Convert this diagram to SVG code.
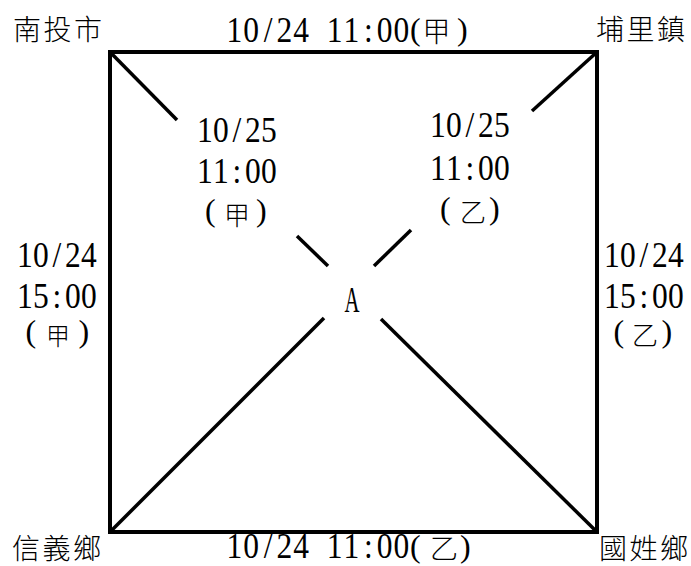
<svg xmlns="http://www.w3.org/2000/svg" width="691" height="566" viewBox="0 0 691 566">
<style>
.ln{stroke:#000;stroke-width:3.5;fill:none;stroke-linecap:butt}
.box{stroke:#000;stroke-width:4;fill:none}
.d{font-family:"Liberation Serif","Times New Roman",serif;font-size:35px;fill:#000}
.p{font-family:"Liberation Serif","Times New Roman",serif;font-size:32px;fill:#000}
.c{font-family:"Noto Sans CJK TC","Noto Sans CJK SC",sans-serif;fill:#000;font-weight:300}
.city{font-size:28px;letter-spacing:2.5px}
</style>
<rect width="691" height="566" fill="#fff"/>
<g id="connectors">
<rect class="box" x="110" y="52" width="487" height="480"/>
<line class="ln" x1="110" y1="52" x2="177" y2="120"/>
<line class="ln" x1="297" y1="236" x2="328" y2="266"/>
<line class="ln" x1="381" y1="319" x2="597" y2="532"/>
<line class="ln" x1="597" y1="52" x2="532" y2="111"/>
<line class="ln" x1="411" y1="230" x2="374" y2="266"/>
<line class="ln" x1="324" y1="318" x2="110" y2="532"/>
</g>
<g id="node-nantou"><text class="c city" x="13" y="40">南投市</text></g>
<g id="node-puli"><text class="c city" x="596" y="40">埔里鎮</text></g>
<g id="node-xinyi"><text class="c city" x="12" y="559">信義鄉</text></g>
<g id="node-guoxing"><text class="c city" x="599" y="559">國姓鄉</text></g>
<g id="node-A"><text class="d" x="344.5" y="312" font-size="30" textLength="15" lengthAdjust="spacingAndGlyphs">A</text></g>
<g id="label-top">
<text class="d" transform="translate(226.5,42) scale(0.9,1)" x="0 18.56 41.5 55.67 74.22 92.78 111.33 129.89 152.9 167 185.56">10/24 11:00</text>
<text class="p" x="410" y="40">(</text>
<text class="c" x="436.5" y="42" font-size="28" text-anchor="middle">甲</text>
<text class="p" x="457" y="40">)</text>
</g>
<g id="label-bottom">
<text class="d" transform="translate(226.5,558) scale(0.9,1)" x="0 18.56 41.5 55.67 74.22 92.78 111.33 129.89 152.9 167 185.56">10/24 11:00</text>
<text class="p" x="410" y="557">(</text>
<text class="c" x="444" y="559" font-size="28" text-anchor="middle">乙</text>
<text class="p" x="460" y="557">)</text>
</g>
<g id="label-left">
<text class="d" transform="translate(17,267) scale(0.9,1)" x="0 17.78 39.56 53.33 71.11">10/24</text>
<text class="d" transform="translate(17,308) scale(0.9,1)" x="0 17.78 39.56 53.33 71.11">15:00</text>
<text class="p" x="25.5" y="342">(</text>
<text class="c" x="58" y="345" font-size="24" text-anchor="middle">甲</text>
<text class="p" x="78.5" y="342">)</text>
</g>
<g id="label-right">
<text class="d" transform="translate(604,267) scale(0.9,1)" x="0 17.78 39.56 53.33 71.11">10/24</text>
<text class="d" transform="translate(604,308) scale(0.9,1)" x="0 17.78 39.56 53.33 71.11">15:00</text>
<text class="p" x="613.5" y="342">(</text>
<text class="c" x="645" y="345" font-size="26" text-anchor="middle">乙</text>
<text class="p" x="661.5" y="342">)</text>
</g>
<g id="label-center-left">
<text class="d" transform="translate(197,142) scale(0.9,1)" x="0 17.78 39.56 53.33 71.11">10/25</text>
<text class="d" transform="translate(197,183) scale(0.9,1)" x="0 17.78 39.56 53.33 71.11">11:00</text>
<text class="p" x="205" y="221">(</text>
<text class="c" x="237" y="225" font-size="26" text-anchor="middle">甲</text>
<text class="p" x="256" y="221">)</text>
</g>
<g id="label-center-right">
<text class="d" transform="translate(430,137) scale(0.9,1)" x="0 17.78 39.56 53.33 71.11">10/25</text>
<text class="d" transform="translate(430,180) scale(0.9,1)" x="0 17.78 39.56 53.33 71.11">11:00</text>
<text class="p" x="440" y="219">(</text>
<text class="c" x="473" y="222" font-size="26" text-anchor="middle">乙</text>
<text class="p" x="489" y="219">)</text>
</g>
</svg>
